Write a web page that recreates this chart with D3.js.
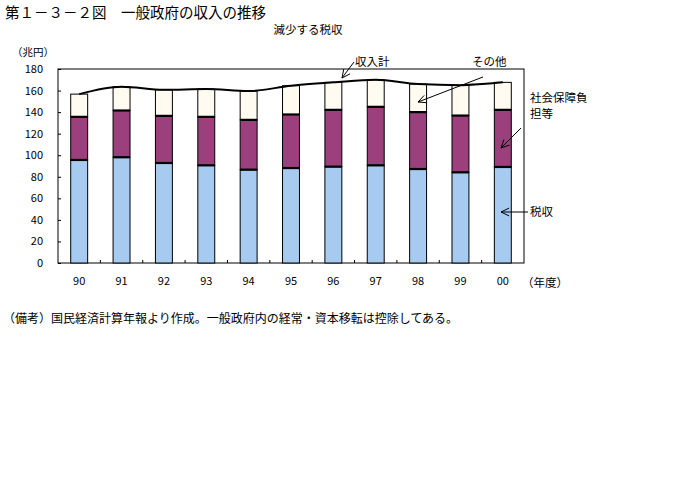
<!DOCTYPE html>
<html><head><meta charset="utf-8">
<script src="https://cdn.jsdelivr.net/npm/d3@7"></script>
<style>
body{margin:0;background:#fff;}
text{font-family:"Noto Sans CJK JP","DejaVu Sans",sans-serif;fill:#000;}
</style></head>
<body><svg id="c" width="700" height="500"></svg>
<script>
const years = ["90","91","92","93","94","95","96","97","98","99","00"];
const taxRevenue = [95.6, 98.1, 92.8, 90.6, 86.6, 88.1, 89.4, 90.6, 87.2, 84.1, 89.1];
const socialSecurity = [40.0, 43.4, 43.7, 45.0, 46.2, 49.7, 52.7, 54.3, 52.8, 52.7, 53.0];
const otherRevenue = [21.1, 22.0, 24.2, 25.8, 26.7, 26.7, 25.5, 25.1, 26.0, 28.2, 25.5];
const yTicks = [0,20,40,60,80,100,120,140,160,180];

const svg = d3.select("#c");
const L=58, R=524, T=69, B=263;
const x = d3.scaleBand().domain(years).range([L,R]).paddingInner(0.6).paddingOuter(0.3);
const y = d3.scaleLinear().domain([0,180]).range([B,T]);

const rows = years.map((yr,i)=>({yr, tax:taxRevenue[i], soc:socialSecurity[i], oth:otherRevenue[i]}));
const stack = d3.stack().keys(["tax","soc","oth"])(rows);
const colors = {tax:"#A6CAF0", soc:"#9B3F7D", oth:"#FFFBF0"};

svg.append("text").attr("x",5).attr("y",18).attr("font-size",14.5).text("第１－３－２図　一般政府の収入の推移");
svg.append("text").attr("x",308).attr("y",34).attr("font-size",11.5).attr("text-anchor","middle").text("減少する税収");
svg.append("text").attr("x",12).attr("y",56).attr("font-size",10.5).text("（兆円）");

// frame
svg.append("rect").attr("x",L).attr("y",T).attr("width",R-L).attr("height",B-T).attr("fill","none").attr("stroke","#000");

// bars
stack.forEach(s=>{
  svg.append("g").selectAll("rect").data(s).join("rect")
    .attr("x",d=>x(d.data.yr)).attr("width",x.bandwidth())
    .attr("y",d=>y(d[1])).attr("height",d=>y(d[0])-y(d[1]))
    .attr("fill",colors[s.key]).attr("stroke","#000").attr("stroke-width",1);
});
// thicker segment boundaries
stack.slice(0,2).forEach(s=>{
  svg.append("g").selectAll("line").data(s).join("line")
    .attr("x1",d=>x(d.data.yr)).attr("x2",d=>x(d.data.yr)+x.bandwidth())
    .attr("y1",d=>y(d[1])).attr("y2",d=>y(d[1]))
    .attr("stroke","#000").attr("stroke-width",2.2);
});

// total line
const totals = rows.map(r=>({yr:r.yr, v:r.tax+r.soc+r.oth}));
svg.append("path").datum(totals)
  .attr("d", d3.line().x(d=>x(d.yr)+x.bandwidth()/2).y(d=>y(d.v)).curve(d3.curveMonotoneX))
  .attr("fill","none").attr("stroke","#000").attr("stroke-width",2);

// y axis
const ya = svg.append("g").attr("transform",`translate(${L},0)`)
  .call(d3.axisLeft(y).tickValues(yTicks).tickSize(-3).tickPadding(15));
ya.select(".domain").remove();
ya.selectAll("text").attr("font-size",11).attr("font-family","'Liberation Sans',sans-serif");
ya.selectAll("line").attr("stroke","#000");

// x ticks at band boundaries (inward)
const step = x.step();
const bounds = years.slice(1).map(yr=>x(yr)-(step-x.bandwidth())/2);
svg.append("g").selectAll("line").data(bounds).join("line")
  .attr("x1",d=>d).attr("x2",d=>d).attr("y1",B).attr("y2",B-3).attr("stroke","#000");
// x labels
svg.append("g").selectAll("text").data(years).join("text")
  .attr("x",d=>x(d)+x.bandwidth()/2).attr("y",285).attr("text-anchor","middle")
  .attr("font-size",11).attr("font-family","'Liberation Sans',sans-serif").text(d=>d);
svg.append("text").attr("x",522).attr("y",287).attr("font-size",11.5).text("（年度）");

// annotations
function arrow(x1,y1,x2,y2){
  svg.append("line").attr("x1",x1).attr("y1",y1).attr("x2",x2).attr("y2",y2).attr("stroke","#000").attr("stroke-width",1);
  const a=Math.atan2(y1-y2,x1-x2), len=9, sp=0.45;
  [a-sp,a+sp].forEach(t=>{
    svg.append("line").attr("x1",x2).attr("y1",y2).attr("x2",x2+len*Math.cos(t)).attr("y2",y2+len*Math.sin(t)).attr("stroke","#000").attr("stroke-width",1);
  });
}
svg.append("text").attr("x",355).attr("y",66).attr("font-size",11.5).text("収入計");
arrow(354,62,342,78);
svg.append("text").attr("x",472).attr("y",66).attr("font-size",11.5).text("その他");
arrow(483,77,418,102);
svg.append("text").attr("x",530).attr("y",102).attr("font-size",11.5).text("社会保障負");
svg.append("text").attr("x",530).attr("y",118).attr("font-size",11.5).text("担等");
arrow(521,128,501,148);
svg.append("text").attr("x",530).attr("y",216).attr("font-size",11.5).text("税収");
arrow(528,212,501,212);

svg.append("text").attr("x",3).attr("y",323).attr("font-size",12).text("（備考）国民経済計算年報より作成。一般政府内の経常・資本移転は控除してある。");
</script></body></html>
